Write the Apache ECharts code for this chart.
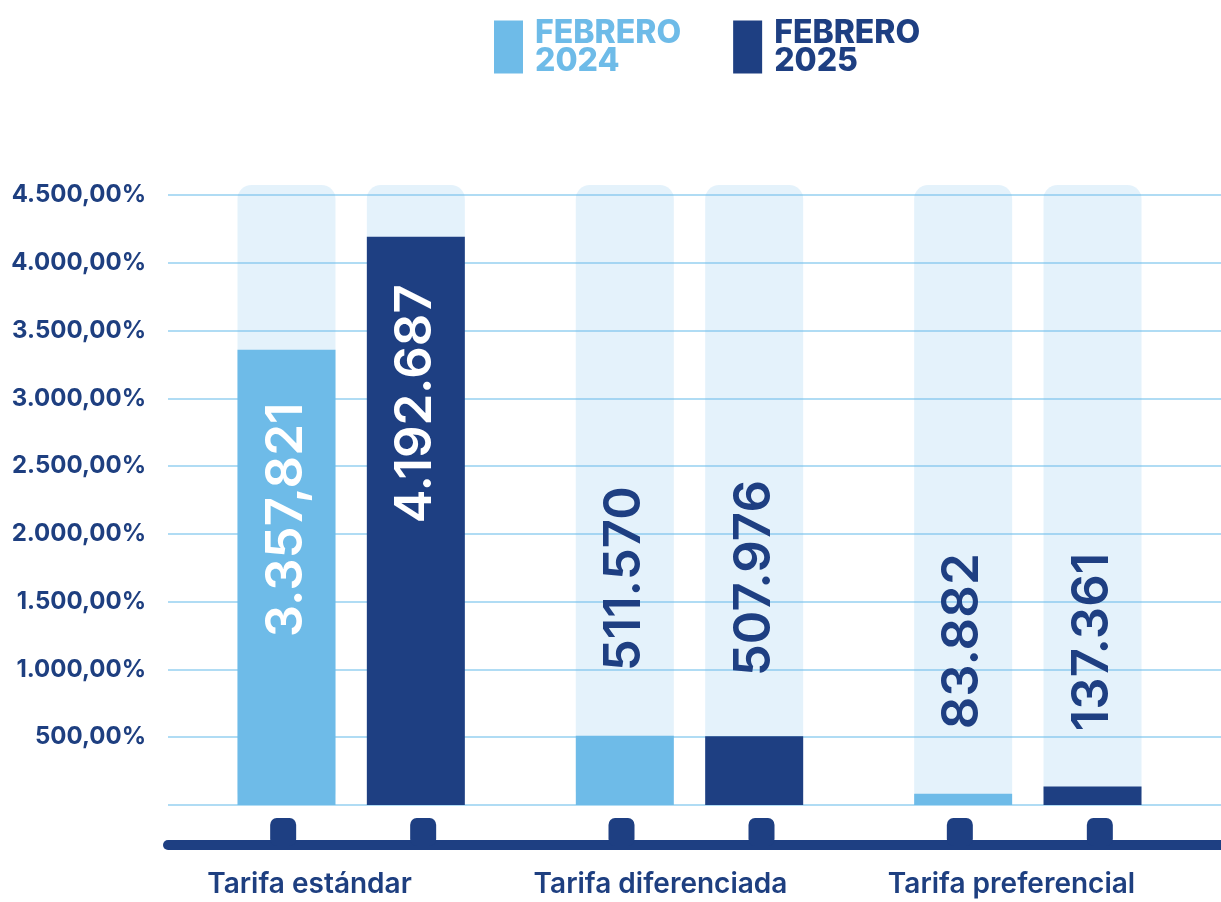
<!DOCTYPE html>
<html>
<head>
<meta charset="utf-8">
<script src="https://cdn.jsdelivr.net/npm/echarts@6/dist/echarts.min.js"></script>
<style>
html,body{margin:0;padding:0;background:#fff;}
#chart{width:1221px;height:902px;}
</style>
</head>
<body>
<div id="chart"></div>
<script>
// ---- data ----
const categories = ['Tarifa estándar', 'Tarifa diferenciada', 'Tarifa preferencial'];
const seriesNames = ['FEBRERO 2024', 'FEBRERO 2025'];
const values2024 = [3357.821, 511.570, 83.882];
const values2025 = [4192.687, 507.976, 137.361];
const labels2024 = ['3.357,821', '511.570', '83.882'];
const labels2025 = ['4.192.687', '507.976', '137.361'];
const yTicks = [0, 500, 1000, 1500, 2000, 2500, 3000, 3500, 4000, 4500];

// ---- style ----
const LIGHT = '#6EBBE8';
const DARK = '#1E3F82';
const TEXT = '#1E3F80';
const FONT = 'Inter, "Noto Sans", sans-serif';
const PLOT_BOTTOM = 97;       // px from bottom of canvas to value 0
const BG_TOP = 185;           // top of background columns (px)
const AXIS_TOP = 195;         // px of 4500 tick
const Y_MAX = yTicks[yTicks.length - 1];
const BG_MAX = Y_MAX * (902 - PLOT_BOTTOM - BG_TOP) / (902 - PLOT_BOTTOM - AXIS_TOP);
const BG_H = 902 - PLOT_BOTTOM - BG_TOP;
// label centre as fraction of background column height (style)
const labelFrac2024 = [0.46, 0.365, 0.264];
const labelFrac2025 = [0.647, 0.366, 0.263];

function fmtAxis(v) {
  if (v === 0) return '';
  return String(v).replace(/\B(?=(\d{3})+(?!\d))/g, '.') + ',00%';
}

function buildBarData(vals, labels, fracs) {
  return vals.map((v, i) => {
    const barH = v / BG_MAX * BG_H;
    const centerFromBottom = fracs[i] * BG_H;
    const yRel = barH - centerFromBottom;   // relative to bar top
    const inside = centerFromBottom < barH;
    return {
      value: v,
      label: {
        show: true,
        formatter: labels[i],
        position: ['50%', yRel],
        rotate: 90,
        align: 'center',
        verticalAlign: 'middle',
        color: inside ? '#ffffff' : DARK,
        fontSize: 51,
        fontWeight: 600,
        fontFamily: FONT
      }
    };
  });
}

const chart = echarts.init(document.getElementById('chart'), null, {renderer: 'canvas'});

const option = {
  backgroundColor: '#ffffff',
  animation: false,
  legend: {
    left: 494,
    top: 17,
    padding: 0,
    itemWidth: 29,
    itemHeight: 53,
    itemGap: 52,
    icon: 'rect',
    selectedMode: false,
    formatter: n => n.replace(' ', '\n'),
    textStyle: {
      fontFamily: FONT,
      fontWeight: 800,
      fontSize: 32,
      lineHeight: 28,
      padding: [0, 0, 0, 7]
    },
    data: [
      {name: seriesNames[0], textStyle: {color: LIGHT}},
      {name: seriesNames[1], textStyle: {color: DARK}}
    ]
  },
  grid: [
    {left: 168, right: 0, top: AXIS_TOP, bottom: PLOT_BOTTOM},
    {left: 182, right: 24, top: BG_TOP, bottom: PLOT_BOTTOM}
  ],
  xAxis: [
    {
      gridIndex: 0, type: 'category', data: categories,
      offset: 40,
      axisLine: {show: true, onZero: false, lineStyle: {color: DARK, width: 10, cap: 'round'}},
      axisTick: {show: false},
      axisLabel: {
        color: TEXT, fontFamily: FONT, fontWeight: 600, fontSize: 28,
        margin: 26, padding: [0, 68, 0, 0]
      },
      splitLine: {show: false}
    },
    {
      gridIndex: 1, type: 'category', data: categories,
      axisLine: {show: false}, axisTick: {show: false}, axisLabel: {show: false}
    }
  ],
  yAxis: [
    {
      gridIndex: 0, type: 'value', min: 0, max: Y_MAX, interval: 500,
      axisLine: {show: false}, axisTick: {show: false},
      axisLabel: {
        formatter: fmtAxis, color: TEXT, fontFamily: FONT,
        fontWeight: 700, fontSize: 24, margin: 22
      },
      splitLine: {show: true, lineStyle: {color: '#96D0F0', width: 1.6}}
    },
    {
      gridIndex: 1, type: 'value', min: 0, max: BG_MAX,
      axisLine: {show: false}, axisTick: {show: false},
      axisLabel: {show: false}, splitLine: {show: false}
    }
  ],
  series: [
    {
      name: seriesNames[0], type: 'bar', xAxisIndex: 1, yAxisIndex: 1,
      barWidth: 98, barGap: '32%',
      itemStyle: {color: LIGHT},
      showBackground: true,
      backgroundStyle: {color: 'rgba(110,187,232,0.19)', borderRadius: [14, 14, 14, 14]},
      data: buildBarData(values2024, labels2024, labelFrac2024)
    },
    {
      name: seriesNames[1], type: 'bar', xAxisIndex: 1, yAxisIndex: 1,
      barWidth: 98, barGap: '32%',
      itemStyle: {color: DARK},
      showBackground: true,
      backgroundStyle: {color: 'rgba(110,187,232,0.19)', borderRadius: [14, 14, 14, 14]},
      data: buildBarData(values2025, labels2025, labelFrac2025)
    },
    {
      type: 'scatter', xAxisIndex: 1, yAxisIndex: 1, clip: false, silent: true,
      symbol: 'roundRect', symbolSize: [26, 28], symbolOffset: [-68, 27],
      itemStyle: {color: DARK, opacity: 1},
      data: categories.map((c, i) => [i, 0])
    },
    {
      type: 'scatter', xAxisIndex: 1, yAxisIndex: 1, clip: false, silent: true,
      symbol: 'roundRect', symbolSize: [26, 28], symbolOffset: [72, 27],
      itemStyle: {color: DARK, opacity: 1},
      data: categories.map((c, i) => [i, 0])
    }
  ]
};

chart.setOption(option);
</script>
</body>
</html>
